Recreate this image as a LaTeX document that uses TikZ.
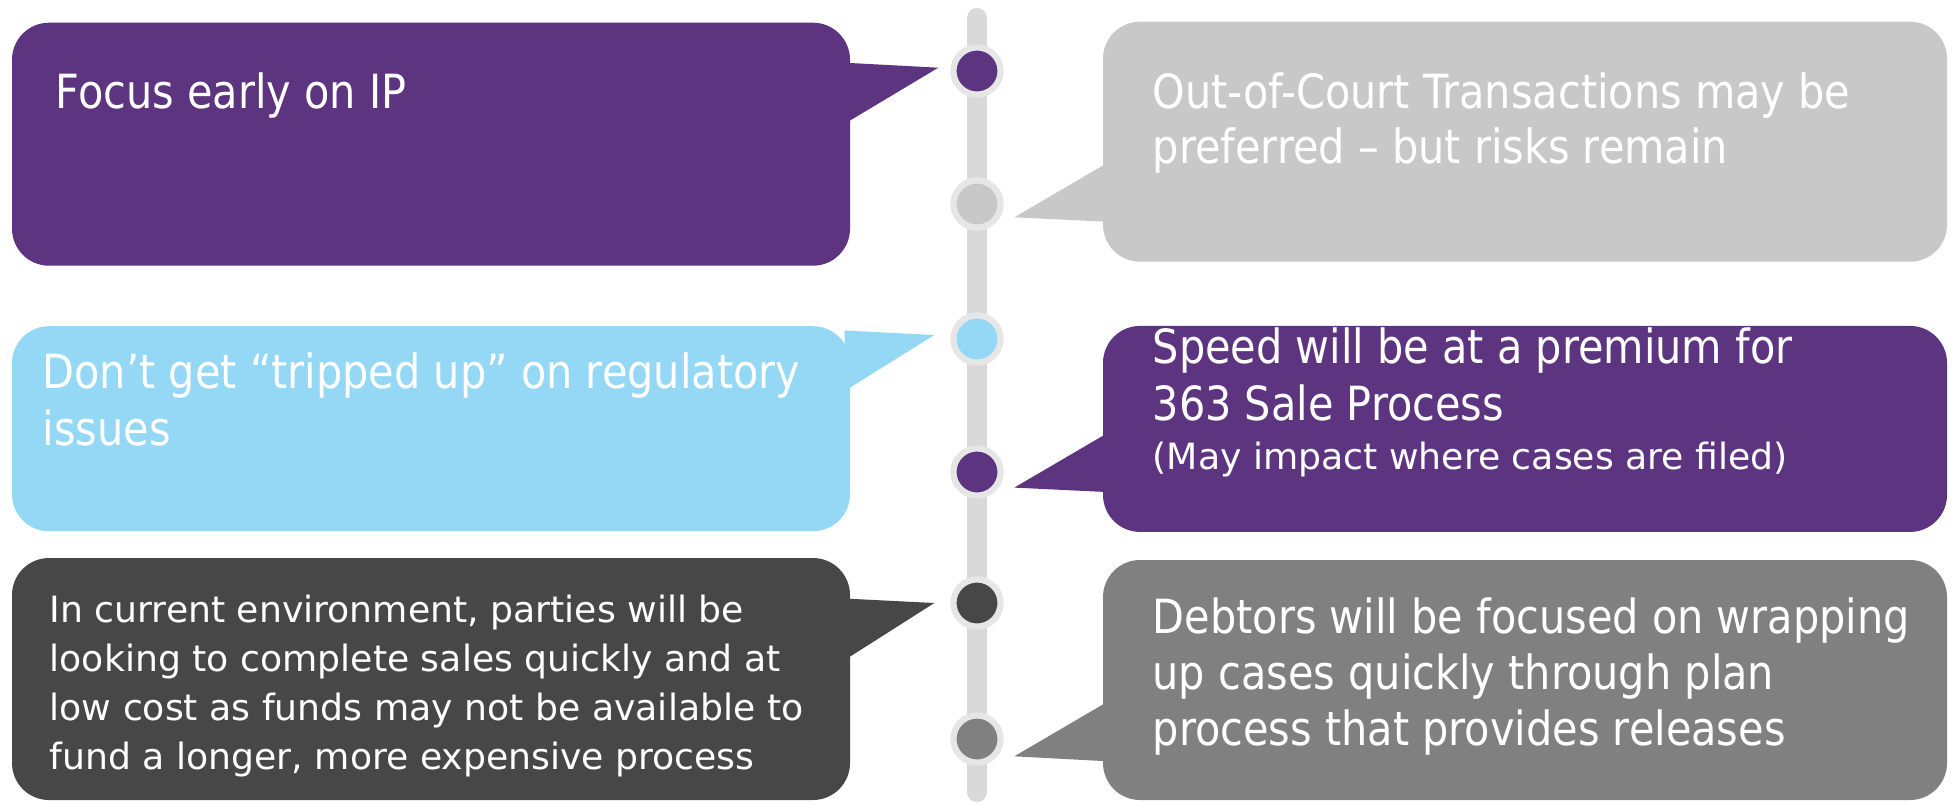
\documentclass[tikz,border=0pt]{standalone}
\usepackage{fontspec}
\setmainfont[FakeStretch=0.88]{DejaVu Sans}
\newfontfamily\amplefont{DejaVu Sans}
\usetikzlibrary{calc}
\definecolor{prune}{HTML}{5C3480}
\definecolor{ciel}{HTML}{94D8F6}
\definecolor{perle}{HTML}{C8C8C8}
\definecolor{ardoise}{HTML}{474747}
\definecolor{souris}{HTML}{808080}
\definecolor{rail}{HTML}{D9D9D9}
\definecolor{anneau}{HTML}{E6E6E6}
\tikzset{
  bulle/.style={rectangle, rounded corners=3.7mm, fill=#1, inner sep=0pt},
  jalon/.style={circle, fill=#1, draw=anneau, line width=0.62mm, minimum size=4.72mm, inner sep=0pt},
  texte/.style={text=white, inner sep=0pt, align=left, anchor=base west,
                font=\fontsize{13.4pt}{16.2pt}\selectfont},
  petit/.style={font=\amplefont\fontsize{10.3pt}{13.85pt}\selectfont},
}

\begin{document}
\begin{tikzpicture}[x=0.1mm, y=-0.1mm]
  \useasboundingbox (0,0) rectangle (1953,804);
  % axe central
  \coordinate (haut) at (977,18);
  \coordinate (bas) at (977,792);
  \draw[rail, line width=2mm, line cap=round] (haut) -- (bas);

  \node[jalon=prune]   (j1) at (977,71) {};
  \node[jalon=perle]   (j2) at (977,204) {};
  \node[jalon=ciel]    (j3) at (977,339) {};
  \node[jalon=prune]   (j4) at (977,472) {};
  \node[jalon=ardoise] (j5) at (977,603) {};
  \node[jalon=souris]  (j6) at (977,739) {};

  % bulles de gauche
  \node[bulle=prune,   minimum width=83.8mm, minimum height=24.3mm] (g1) at (431,144.2) {};
  \node[bulle=ciel,    minimum width=83.8mm, minimum height=20.5mm] (g2) at (431,428.7) {};
  \node[bulle=ardoise, minimum width=83.8mm, minimum height=24.2mm] (g3) at (431,679) {};
  % bulles de droite
  \node[bulle=perle,  minimum width=84.4mm, minimum height=24.0mm] (d1) at (1525,141.7) {};
  \node[bulle=prune,  minimum width=84.4mm, minimum height=20.6mm] (d2) at (1525,428.9) {};
  \node[bulle=souris, minimum width=84.4mm, minimum height=24.0mm] (d3) at (1525,680) {};

  % pointes vers l'axe
  \coordinate (p1) at ($(j1)+(-38.7,-3.3)$);
  \coordinate (p2) at ($(j2)+(37.3,13.3)$);
  \coordinate (p3) at ($(j3)+(-42.7,-4)$);
  \coordinate (p4) at ($(j4)+(37.3,15.6)$);
  \coordinate (p5) at ($(j5)+(-42.7,0)$);
  \coordinate (p6) at ($(j6)+(37.3,17.3)$);
  \fill[prune]   ($(p1 -| g1.east)+(-6,-5)$) -- (p1) -- ($(p1 -| g1.east)+(-6,56)$) -- cycle;
  \fill[ciel]    ($(p3 -| g2.east)+(-6,-4.5)$) -- (p3) -- ($(p3 -| g2.east)+(-6,56)$) -- cycle;
  \fill[ardoise] ($(p5 -| g3.east)+(-6,-4.5)$) -- (p5) -- ($(p5 -| g3.east)+(-6,57)$) -- cycle;
  \fill[perle]   ($(p2 -| d1.west)+(6,-55)$) -- (p2) -- ($(p2 -| d1.west)+(6,4.5)$) -- cycle;
  \fill[prune]   ($(p4 -| d2.west)+(6,-55)$) -- (p4) -- ($(p4 -| d2.west)+(6,4.5)$) -- cycle;
  \fill[souris]  ($(p6 -| d3.west)+(6,-55)$) -- (p6) -- ($(p6 -| d3.west)+(6,5)$) -- cycle;

  % textes (base = derniere ligne)
  \node[texte] (t1) at (55,108.3) {Focus early on IP};
  \node[texte] (t2) at (42,445) {Don’t get “tripped up” on regulatory\\issues};
  \node[texte, petit] (t3) at (49,769) {In current environment, parties will be\\looking to complete sales quickly and at\\low cost as funds may not be available to\\fund a longer, more expensive process};
  \node[texte, font=\fontsize{13.4pt}{15.6pt}\selectfont] (t4) at (1152,163.3) {Out-of-Court Transactions may be\\preferred – but risks remain};
  \node[texte] (t5) at (1152,420) {Speed will be at a premium for\\363 Sale Process};
  \node[texte, petit] (t6) at (1152,469) {(May impact where cases are filed)};
  \node[texte, font=\fontsize{13.4pt}{15.9pt}\selectfont] (t7) at (1152,745) {Debtors will be focused on wrapping\\up cases quickly through plan\\process that provides releases};
\end{tikzpicture}
\end{document}
